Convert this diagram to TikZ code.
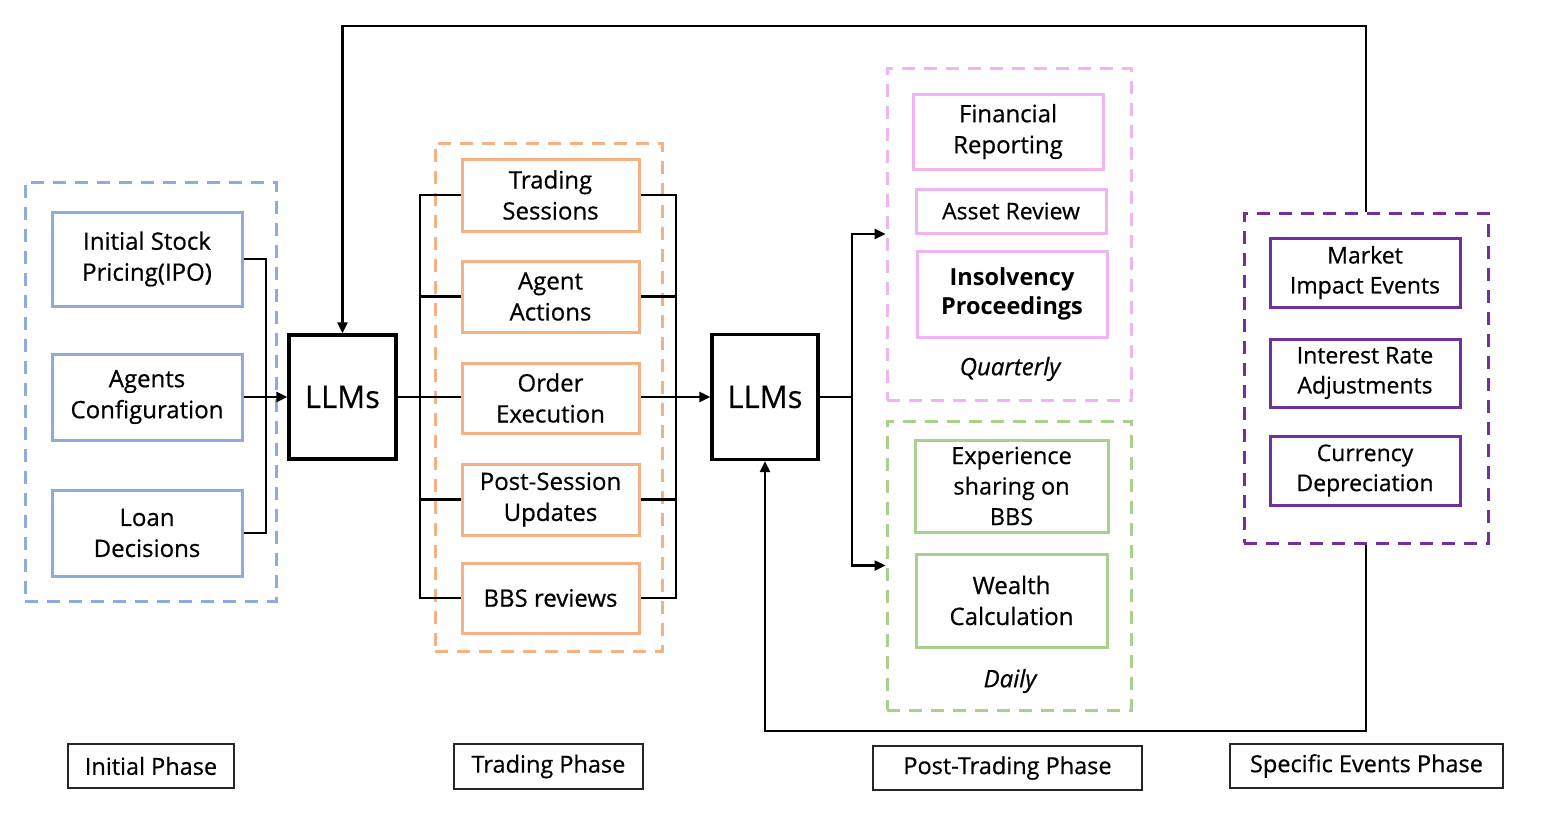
\documentclass[tikz,border=0pt]{standalone}
\usepackage{fontspec}
\setmainfont{Open Sans}[FakeBold=0.6, BoldFont={Open Sans Bold}, BoldFeatures={FakeBold=0}]
\usetikzlibrary{arrows.meta}
\definecolor{cblue}{HTML}{8FAADC}
\definecolor{corange}{HTML}{F4B183}
\definecolor{cpink}{HTML}{F0B4F0}
\definecolor{cgreen}{HTML}{A9D18E}
\definecolor{cpurple}{HTML}{7030A0}
\tikzset{
  txt/.style={font=\fontsize{24}{31}\selectfont, align=center, inner sep=0pt},
  ptxt/.style={font=\fontsize{23}{30}\selectfont},
  cbox/.style={txt, draw=#1, line width=3pt},
  grp/.style={draw=#1, line width=3pt, dash pattern=on 13pt off 9pt, inner sep=0pt},
  llm/.style={draw=black, line width=3.2pt, inner sep=0pt, font=\fontsize{31}{36}\selectfont},
  phase/.style={draw=black!85, line width=1.3pt, inner sep=0pt, font=\fontsize{23.5}{28}\selectfont},
  conn/.style={line width=2.4pt, black},
  arr/.style={conn, -{Triangle[length=11pt,width=10pt]}},
}
\begin{document}
\begin{tikzpicture}[x=1pt,y=-1pt]
\useasboundingbox (0,0) rectangle (1545,819);
% groups
\node[grp=cblue, minimum width=251, minimum height=419] (ig) at (150.5,391.5) {};
\node[grp=corange, minimum width=227, minimum height=508] (tg) at (548.5,397) {};
\node[grp=cpink, minimum width=244, minimum height=332] (qg) at (1009,234) {};
\node[grp=cgreen, minimum width=244, minimum height=289] (dg) at (1009,565.5) {};
\node[grp=cpurple, minimum width=244, minimum height=330] (eg) at (1366,378) {};
% initial phase boxes
\node[cbox=cblue, minimum width=190, minimum height=94] (b1) at (147,259) {Initial Stock\\Pricing(IPO)};
\node[cbox=cblue, minimum width=190, minimum height=86] (b2) at (147,397) {Agents\\Configuration};
\node[cbox=cblue, minimum width=190, minimum height=86] (b3) at (147,533) {Loan\\Decisions};
% LLMs
\node[llm, minimum width=107, minimum height=124] (l1) at (342.5,397) {LLMs};
\node[llm, minimum width=106, minimum height=125] (l2) at (765,397) {LLMs};
% trading boxes
\node[cbox=corange, minimum width=177, minimum height=72] (ts) at (550.5,195) {Trading\\Sessions};
\node[cbox=corange, minimum width=177, minimum height=71] (aa) at (550.5,296.5) {Agent\\Actions};
\node[cbox=corange, minimum width=177, minimum height=70] (oe) at (550.5,398) {Order\\Execution};
\node[cbox=corange, minimum width=177, minimum height=71] (ps) at (550.5,499.5) {Post-Session\\Updates};
\node[cbox=corange, minimum width=177, minimum height=70] (bb) at (550.5,598) {BBS reviews};
% post-trading boxes
\node[cbox=cpink, minimum width=190, minimum height=75] (fr) at (1008,131.5) {Financial\\Reporting};
\node[cbox=cpink, minimum width=190, minimum height=44, ptxt] (ar) at (1011,211) {Asset Review};
\node[cbox=cpink, minimum width=190, minimum height=86, font=\fontsize{23.5}{29}\selectfont\bfseries] (ip) at (1012,294) {Insolvency\\Proceedings};
\node[txt, font=\fontsize{24}{28}\selectfont\itshape] (qt) at (1010,369) {Quarterly};
\node[cbox=cgreen, minimum width=193, minimum height=92, font=\fontsize{23.5}{30.5}\selectfont] (ex) at (1011.5,486) {Experience\\sharing on\\BBS};
\node[cbox=cgreen, minimum width=191, minimum height=93] (wc) at (1011.5,600.5) {Wealth\\Calculation};
\node[txt, font=\fontsize{24}{28}\selectfont\itshape] (dl) at (1010,681) {Daily};
% events boxes
\node[cbox=cpurple, minimum width=190, minimum height=69, ptxt] (mi) at (1365,272.5) {Market\\Impact Events};
\node[cbox=cpurple, minimum width=190, minimum height=68, ptxt] (ir) at (1365,373) {Interest Rate\\Adjustments};
\node[cbox=cpurple, minimum width=190, minimum height=69, ptxt] (cd) at (1365,470.5) {Currency\\Depreciation};
% phase labels
\node[phase, minimum width=166, minimum height=44] (p1) at (151,766) {Initial Phase};
\node[phase, minimum width=189, minimum height=45] (p2) at (548.5,766.5) {Trading Phase};
\node[phase, minimum width=269, minimum height=44] (p3) at (1007.5,768) {Post-Trading Phase};
\node[phase, minimum width=273, minimum height=44] (p4) at (1366.5,766) {Specific Events Phase};
% coordinates
\coordinate (lb) at (420,0);
\coordinate (rb) at (676,0);
\coordinate (ib) at (266,0);
\coordinate (bx) at (852,397);
\coordinate (tp) at (1366,26);
\coordinate (bt) at (1366,731);
% connectors: initial phase
\draw[conn] (b1.east) -- (b1.east -| ib) |- (b3.east);
\draw[arr] (b2.east) -- (l1.west);
% top feedback
\draw[arr] (eg.north) -- (tp) -| (l1.north);
% bottom feedback
\draw[arr] (eg.south) -- (bt) -| (l2.south);
% trading buses
\draw[conn] (l1.east) -- (l1.east -| oe.west);
\draw[conn] (ts.west) -- (ts.west -| lb) |- (bb.west);
\draw[conn] (aa.west) -- (aa.west -| lb);
\draw[conn] (ps.west) -- (ps.west -| lb);
\draw[conn] (ts.east) -- (ts.east -| rb) |- (bb.east);
\draw[conn] (aa.east) -- (aa.east -| rb);
\draw[conn] (ps.east) -- (ps.east -| rb);
\draw[arr] (l2.west -| oe.east) -- (l2.west);
% post-trading
\draw[conn] (l2.east) -- (bx);
\draw[arr] (bx) |- (qg.west);
\draw[arr] (bx) |- (dg.west);
\end{tikzpicture}
\end{document}
